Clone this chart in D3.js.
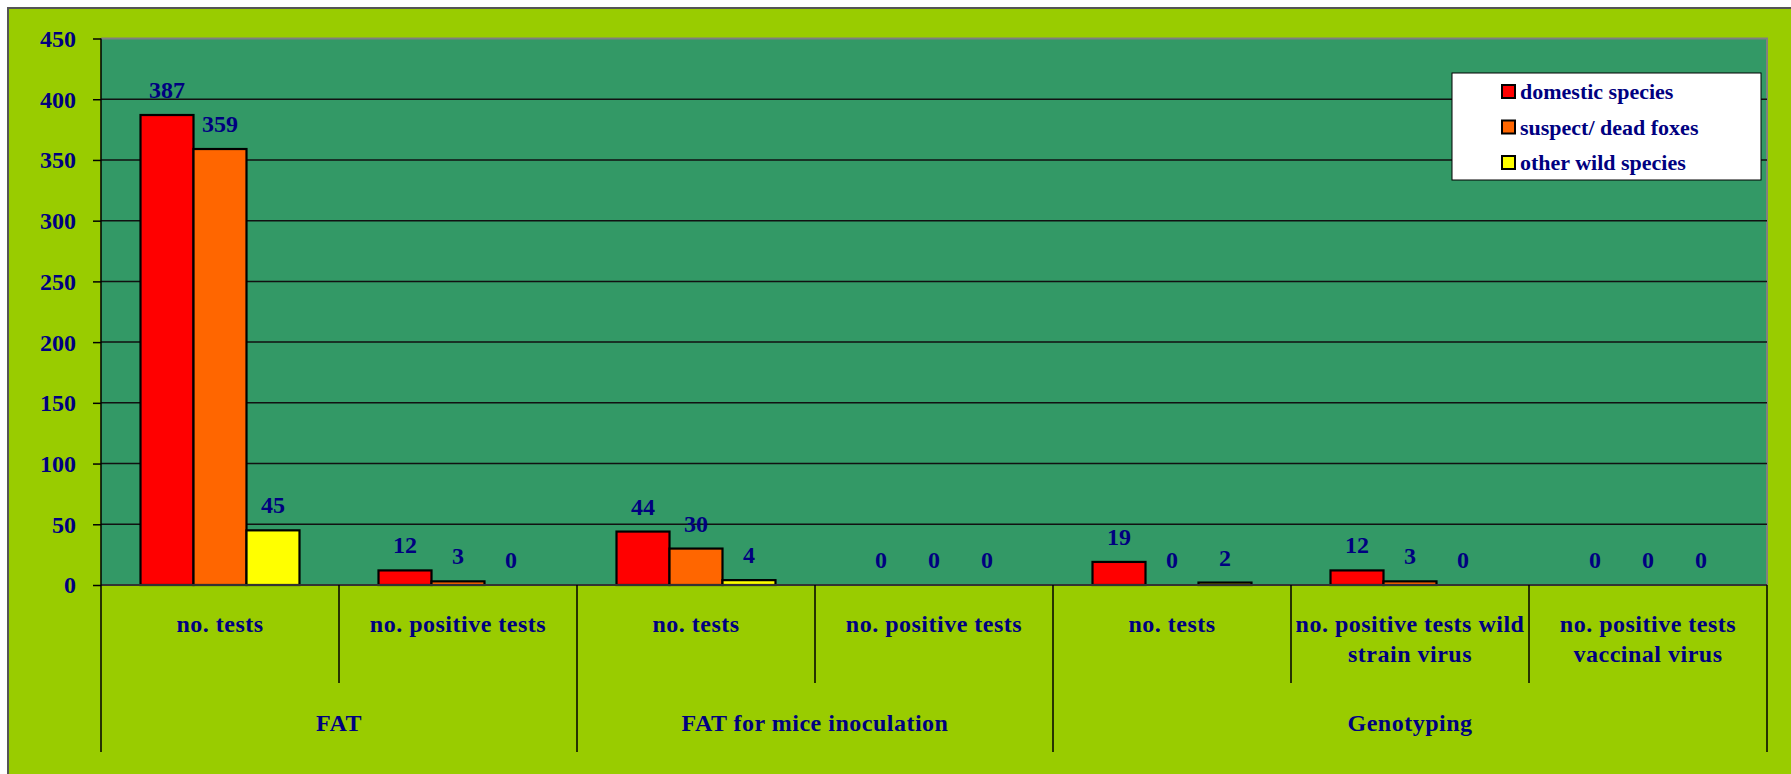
<!DOCTYPE html>
<html><head><meta charset="utf-8">
<script src="https://cdn.jsdelivr.net/npm/d3@7"></script>
<style>body{margin:0;background:#fff}svg{display:block}</style>
</head><body>
<script>
const categories = ["no. tests","no. positive tests","no. tests","no. positive tests","no. tests","no. positive tests wild|strain virus","no. positive tests|vaccinal virus"];
const groups = ["FAT","FAT for mice inoculation","Genotyping"];
const groupSpans = [2,2,3];
const series = ["domestic species","suspect/ dead foxes","other wild species"];
const domestic = [387,12,44,0,19,12,0];
const foxes = [359,3,30,0,0,3,0];
const otherWild = [45,0,4,0,2,0,0];
const yTicks = [0,50,100,150,200,250,300,350,400,450];
const colors = ["#FF0000","#FF6600","#FFFF00"];

const W=1791,H=774;
const L=101,R=1767,T=38.5,B=585,B1=683,B2=752;
const navy="#000080", font="'Liberation Serif','Times New Roman',serif";
const svg=d3.select("body").append("svg").attr("width",W).attr("height",H);

svg.append("rect").attr("x",8).attr("y",8).attr("width",W).attr("height",H)
  .attr("fill","#99CC00").attr("stroke","#555").attr("stroke-width",2);

const y=d3.scaleLinear().domain([0,450]).range([B,T]);
const idx=categories.map((c,i)=>i);
const x=d3.scaleBand().domain(idx).range([L,R]).padding(0);
const step=x.bandwidth();
const gap=step*0.166;
const x1=d3.scaleBand().domain(series.map((s,i)=>i)).range([gap,step-gap]).padding(0);

// plot area
svg.append("rect").attr("x",L).attr("y",T).attr("width",R-L).attr("height",B-T).attr("fill","#339966");
svg.append("path").attr("d",`M${L},${T}H${R}V${B}`).attr("fill","none").attr("stroke","#808080").attr("stroke-width",2);

// gridlines
svg.append("g").selectAll("line").data(yTicks.filter(t=>t>0&&t<450)).join("line")
  .attr("x1",L).attr("x2",R).attr("y1",d=>y(d)).attr("y2",d=>y(d))
  .attr("stroke","#111").attr("stroke-width",1.5);

// y axis
const ya=svg.append("g").attr("transform",`translate(${L},0)`)
  .call(d3.axisLeft(y).tickValues(yTicks).tickSize(8).tickSizeOuter(0).tickPadding(17));
ya.select(".domain").remove();
ya.selectAll("line").attr("stroke","#000").attr("stroke-width",1.5);
ya.selectAll("text").attr("font-family",font).attr("font-weight","bold").attr("font-size",24).attr("fill",navy).attr("dy","0.33em");

// bars
const data=[domestic,foxes,otherWild];
const bars=[];
data.forEach((arr,s)=>arr.forEach((v,i)=>bars.push({s,i,v})));
svg.append("g").selectAll("rect").data(bars).join("rect")
  .attr("x",d=>x(d.i)+x1(d.s)).attr("width",x1.bandwidth())
  .attr("y",d=>y(d.v)).attr("height",d=>B-y(d.v))
  .attr("fill",d=>colors[d.s]).attr("stroke","#000").attr("stroke-width",d=>d.v>0?2.2:0);

// value labels
svg.append("g").selectAll("text").data(bars).join("text")
  .attr("x",d=>x(d.i)+x1(d.s)+x1.bandwidth()/2).attr("y",d=>y(d.v)-17)
  .attr("text-anchor","middle").attr("font-family",font).attr("font-weight","bold")
  .attr("font-size",24).attr("fill",navy).text(d=>d.v);

// axis lines
svg.append("line").attr("x1",L).attr("x2",R).attr("y1",B).attr("y2",B).attr("stroke","#333").attr("stroke-width",2);
svg.append("line").attr("x1",L).attr("x2",L).attr("y1",T).attr("y2",B2).attr("stroke","#000").attr("stroke-width",1.5);

// dividers
let starts=[0];groupSpans.forEach((s,i)=>starts.push(starts[i]+s));
const longIdx=new Set(starts);
idx.slice(1).concat([categories.length]).forEach(i=>{
  const xx = i<categories.length ? x(i) : R;
  svg.append("line").attr("x1",xx).attr("x2",xx).attr("y1",B).attr("y2",longIdx.has(i)?B2:B1)
    .attr("stroke","#000").attr("stroke-width",1.5);
});

// category labels
categories.forEach((c,i)=>{
  const t=svg.append("text").attr("x",x(i)+step/2).attr("y",632).attr("text-anchor","middle")
    .attr("font-family",font).attr("font-weight","bold").attr("font-size",24).attr("fill",navy)
    .attr("letter-spacing",0.5);
  c.split("|").forEach((ln,j)=>t.append("tspan").attr("x",x(i)+step/2).attr("dy",j?30:0).text(ln));
});

// group labels
groups.forEach((g,k)=>{
  const x0=x(starts[k]), x2=starts[k+1]<categories.length?x(starts[k+1]):R;
  svg.append("text").attr("x",(x0+x2)/2).attr("y",731).attr("text-anchor","middle")
    .attr("font-family",font).attr("font-weight","bold").attr("font-size",24).attr("fill",navy)
    .attr("letter-spacing",0.5).text(g);
});

// legend
const lg=svg.append("g");
lg.append("rect").attr("x",1452).attr("y",73).attr("width",309).attr("height",107).attr("fill","#fff").attr("stroke","#000").attr("stroke-width",1);
series.forEach((s,i)=>{
  const cy=92+i*35.5;
  lg.append("rect").attr("x",1502).attr("y",cy-7).attr("width",13).attr("height",13).attr("fill",colors[i]).attr("stroke","#000").attr("stroke-width",2);
  lg.append("text").attr("x",1520).attr("y",cy+7).attr("font-family",font).attr("font-weight","bold").attr("font-size",22).attr("fill",navy).text(s);
});
</script>
</body></html>
